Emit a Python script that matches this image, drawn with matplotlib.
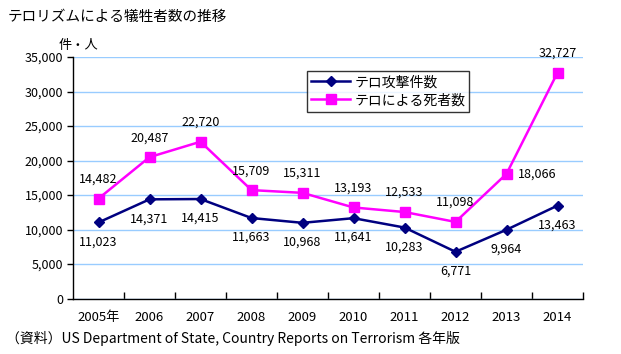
import numpy as np
import matplotlib
matplotlib.use("Agg")
import matplotlib.pyplot as plt
from matplotlib.ticker import FuncFormatter

plt.rcParams['font.family'] = ['Noto Sans CJK JP', 'DejaVu Sans']

years = ["2005年", "2006", "2007", "2008", "2009", "2010", "2011", "2012", "2013", "2014"]
attacks = [11023, 14371, 14415, 11663, 10968, 11641, 10283, 6771, 9964, 13463]
deaths = [14482, 20487, 22720, 15709, 15311, 13193, 12533, 11098, 18066, 32727]

x = np.arange(len(years))

fig = plt.figure(figsize=(6.21, 3.54), dpi=100)
ax = fig.add_axes([73 / 621, 1 - 298.5 / 354, 510 / 621, 241.5 / 354])

ax.plot(x, attacks, color="#000080", lw=1.8, marker="D", ms=5.5, label="テロ攻撃件数", zorder=3)
ax.plot(x, deaths, color="#ff00ff", lw=1.8, marker="s", ms=6.5, label="テロによる死者数", zorder=3)

# data labels
for i, v in enumerate(attacks):
    ax.annotate(f"{v:,}", (x[i], v), xytext=(0, -14), textcoords="offset points",
                ha="center", va="center", fontsize=9)
for i, v in enumerate(deaths):
    if i == 8:
        ax.annotate(f"{v:,}", (x[i], v), xytext=(8, 0), textcoords="offset points",
                    ha="left", va="center", fontsize=9)
    else:
        ax.annotate(f"{v:,}", (x[i], v), xytext=(0, 14), textcoords="offset points",
                    ha="center", va="center", fontsize=9)

ax.set_xlim(-0.5, len(years) - 0.5)
ax.set_ylim(0, 35000)
ax.set_yticks(np.arange(0, 35001, 5000))
ax.yaxis.set_major_formatter(FuncFormatter(lambda v, p: f"{int(v):,}"))
ax.grid(axis="y", color="#99ccff", lw=1)
ax.set_axisbelow(True)

ax.set_xticks(x)
ax.set_xticklabels(years)
ax.set_xticks(np.arange(0.5, len(years), 1), minor=True)
ax.tick_params(axis="x", which="major", length=0, pad=9, labelsize=9.5)
ax.tick_params(axis="x", which="minor", direction="in", length=5, width=1)
ax.tick_params(axis="y", direction="out", length=4, width=1, labelsize=9, pad=3)

for s in ["top", "right"]:
    ax.spines[s].set_visible(False)
for s in ["left", "bottom"]:
    ax.spines[s].set_color("black")
    ax.spines[s].set_linewidth(1)

leg = ax.legend(loc="upper left", bbox_to_anchor=(307 / 621, 1 - 71 / 354),
                bbox_transform=fig.transFigure, fontsize=10, frameon=True,
                fancybox=False, handlelength=2.8, borderpad=0.3, labelspacing=0.3,
                handletextpad=0.3, borderaxespad=0)
leg.get_frame().set_edgecolor("black")
leg.get_frame().set_linewidth(1)

fig.text(8 / 621, 1 - 17 / 354, "テロリズムによる犠牲者数の推移", fontsize=10.5, va="center", ha="left")
fig.text(78 / 621, 1 - 46 / 354, "件・人", fontsize=9.5, va="center", ha="center")
fig.text(6 / 621, 1 - 338 / 354,
         "（資料）US Department of State, Country Reports on Terrorism 各年版",
         fontsize=10, va="center", ha="left")

fig.savefig("out.png", dpi=100)
